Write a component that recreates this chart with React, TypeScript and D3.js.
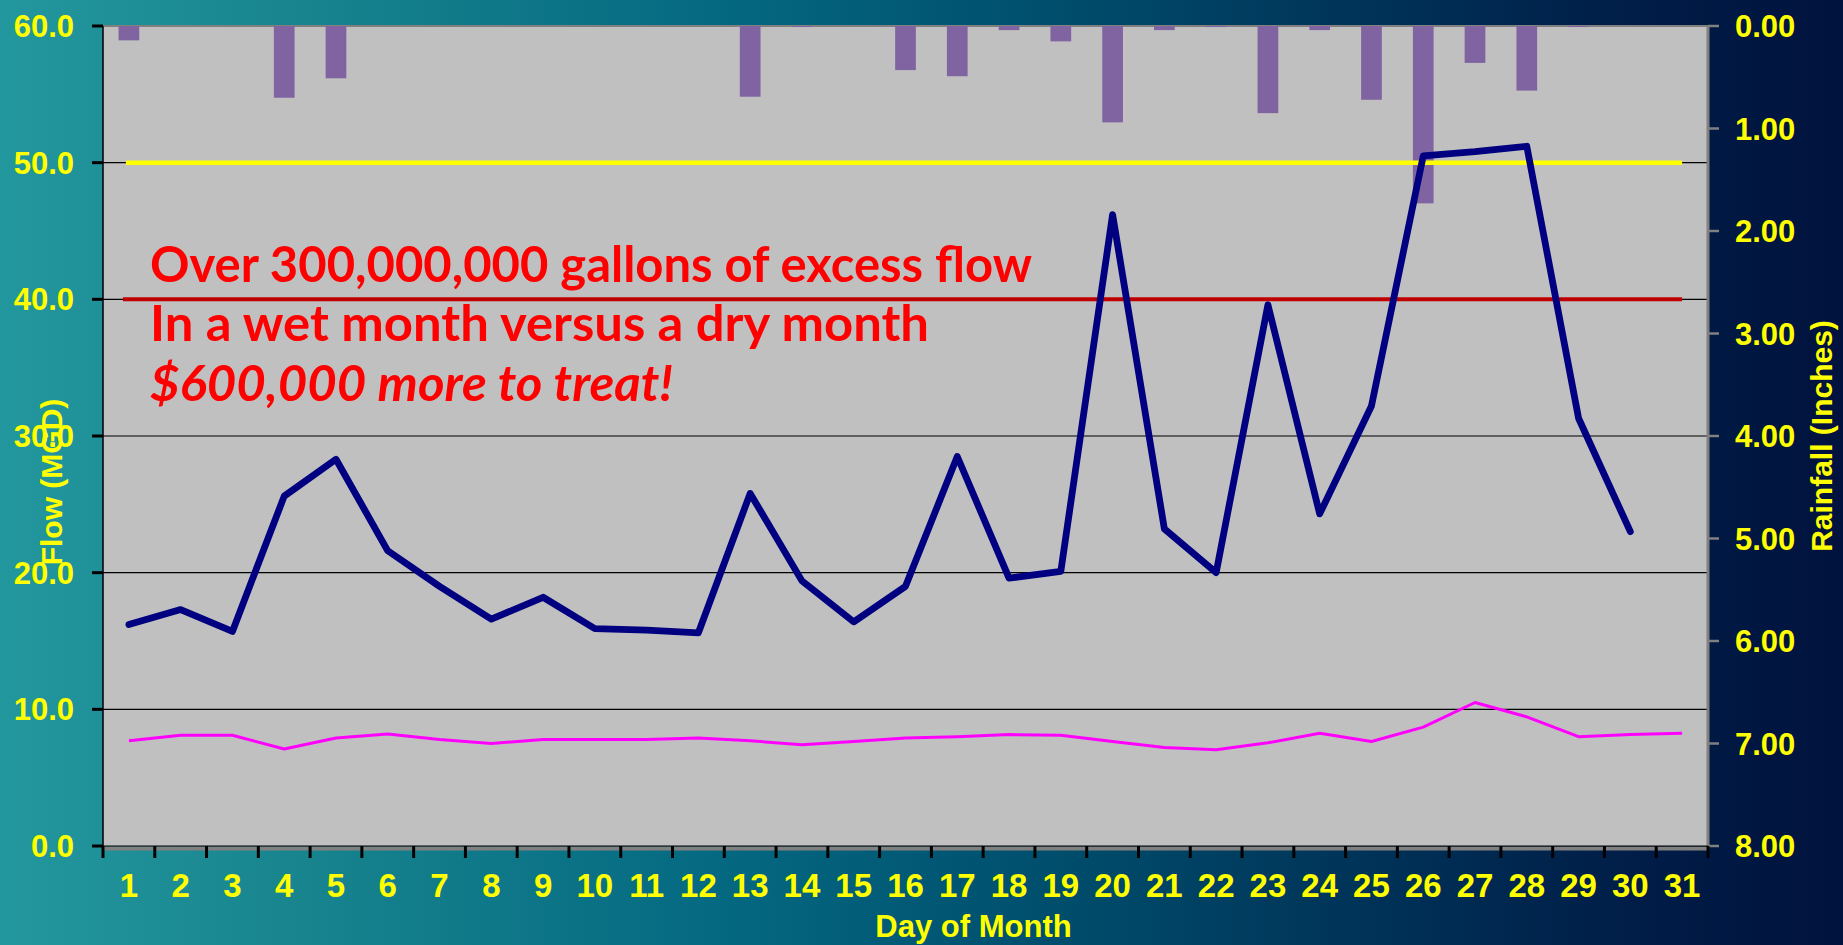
import React from 'react';
import * as d3 from 'd3';

const dayLabels = ['1','2','3','4','5','6','7','8','9','10','11','12','13','14','15','16','17','18','19','20','21','22','23','24','25','26','27','28','29','30','31'];
const wetFlow: (number | null)[] = [16.2, 17.3, 15.7, 25.6, 28.3, 21.6, 19.0, 16.6, 18.2, 15.9, 15.8, 15.6, 25.8, 19.4, 16.4, 19.0, 28.5, 19.6, 20.1, 46.2, 23.2, 20.0, 39.6, 24.3, 32.2, 50.5, 50.8, 51.2, 31.3, 23.0, null];
const dryFlow = [7.7, 8.1, 8.1, 7.1, 7.9, 8.2, 7.8, 7.5, 7.8, 7.8, 7.8, 7.9, 7.7, 7.4, 7.65, 7.9, 8.0, 8.15, 8.1, 7.65, 7.2, 7.05, 7.55, 8.25, 7.65, 8.7, 10.5, 9.45, 8.0, 8.15, 8.25];
const rainfall = [0.14, 0, 0, 0.70, 0.51, 0, 0, 0, 0, 0, 0, 0, 0.69, 0.01, 0, 0.43, 0.49, 0.04, 0.15, 0.94, 0.04, 0.01, 0.85, 0.04, 0.72, 1.73, 0.36, 0.63, 0.01, 0, 0];
const flowTicks = [0, 10, 20, 30, 40, 50, 60];
const rainTicks = [0, 1, 2, 3, 4, 5, 6, 7, 8];
const capacityLevel = 50;
const avgLevel = 40;
const noteLines = [
  'Over 300,000,000 gallons of excess flow',
  'In a wet month versus a dry month',
  '$600,000 more to treat!',
];

const W = 1843, H = 945;
const L = 103, R = 1708, T = 26, B = 846;
const AX = '"Liberation Sans", Arial, sans-serif';
const YEL = '#FFFF00';

export default function App() {
  const x = d3.scaleBand<string>().domain(dayLabels).range([L, R]).padding(0);
  const bw = x.bandwidth();
  const cx = (i: number) => (x(dayLabels[i]) as number) + bw / 2;
  const yF = d3.scaleLinear().domain([0, 60]).range([B, T]);
  const yR = d3.scaleLinear().domain([0, 8]).range([T, B]);

  const lineGen = d3.line<number | null>()
    .defined(v => v != null)
    .x((_, i) => cx(i))
    .y(v => yF(v as number));

  const boundaries = dayLabels.map(d => x(d) as number).concat([R]);
  const barW = bw * 0.4;
  const x0 = cx(0), x1 = cx(dayLabels.length - 1);

  const noteLens = [882, 779, 523];
  const noteY = [282, 341, 401];

  return (
    <div style={{ position: 'absolute', left: 0, top: 0 }}>
      <svg width={W} height={H} style={{ display: 'block' }}>
        <defs>
          <linearGradient id="bg" x1="0" y1="0" x2="1" y2="0">
            <stop offset="0" stopColor="#23979e" />
            <stop offset="0.15" stopColor="#19868f" />
            <stop offset="0.38" stopColor="#056a82" />
            <stop offset="0.55" stopColor="#00516f" />
            <stop offset="0.72" stopColor="#00365a" />
            <stop offset="0.87" stopColor="#001f49" />
            <stop offset="1" stopColor="#00123d" />
          </linearGradient>
        </defs>
        <rect x={0} y={0} width={W} height={H} fill="url(#bg)" />
        <rect x={L} y={T} width={R - L} height={B - T} fill="#C0C0C0" />

        {flowTicks.filter(t => t > 0 && t < 60).map(t => (
          <line key={'g' + t} x1={L} x2={R} y1={yF(t)} y2={yF(t)} stroke="#000" strokeWidth={1.2} />
        ))}
        <line x1={L} x2={R} y1={T} y2={T} stroke="#808080" strokeWidth={2} />

        {rainfall.map((v, i) => v > 0 ? (
          <rect key={'b' + i} x={cx(i) - barW / 2} y={yR(0)} width={barW} height={yR(v) - yR(0)} fill="#8064A2" />
        ) : null)}

        <line x1={x0 - 3} x2={x1} y1={yF(capacityLevel)} y2={yF(capacityLevel)} stroke="#FFFF00" strokeWidth={4.5} />
        <line x1={x0 - 6} x2={x1} y1={yF(avgLevel)} y2={yF(avgLevel)} stroke="#C00000" strokeWidth={4} />

        <path d={lineGen(dryFlow) || ''} fill="none" stroke="#FF00FF" strokeWidth={3} strokeLinejoin="round" />
        <path d={lineGen(wetFlow) || ''} fill="none" stroke="#000080" strokeWidth={6.8} strokeLinejoin="round" strokeLinecap="round" />

        {noteLines.map((s, i) => (
          <text key={'n' + i} x={150} y={noteY[i]} fill="#FF0000" fontFamily="Lato, 'Open Sans', sans-serif" fontWeight="bold"
            fontStyle={i === 2 ? 'italic' : 'normal'} fontSize={49} textLength={noteLens[i]} lengthAdjust="spacingAndGlyphs">{s}</text>
        ))}

        <line x1={L} x2={L} y1={T} y2={B} stroke="#000" strokeWidth={1.5} />
        {flowTicks.map(t => (
          <g key={'lf' + t}>
            <line x1={L - 11} x2={L} y1={yF(t)} y2={yF(t)} stroke="#000" strokeWidth={3} />
            <text x={74} y={yF(t)} dy="0.36em" textAnchor="end" fill={YEL} fontFamily={AX} fontWeight="bold" fontSize={31}>{t.toFixed(1)}</text>
          </g>
        ))}

        <line x1={R} x2={R} y1={T} y2={B} stroke="#808080" strokeWidth={3} />
        {rainTicks.map(t => (
          <g key={'rt' + t}>
            <line x1={R} x2={R + 11} y1={yR(t)} y2={yR(t)} stroke="#808080" strokeWidth={2.5} />
            <text x={1735} y={yR(t)} dy="0.36em" textAnchor="start" fill={YEL} fontFamily={AX} fontWeight="bold" fontSize={31}>{t.toFixed(2)}</text>
          </g>
        ))}

        <line x1={L} x2={R} y1={B + 2.5} y2={B + 2.5} stroke="#808080" strokeWidth={4} />
        <line x1={L} x2={R} y1={B} y2={B} stroke="#000" strokeWidth={1.2} />
        {boundaries.map((bx, i) => (
          <line key={'bt' + i} x1={bx} x2={bx} y1={B} y2={B + 12} stroke="#000" strokeWidth={3} />
        ))}
        {dayLabels.map((d, i) => (
          <text key={'xl' + d} x={cx(i)} y={897} textAnchor="middle" fill={YEL} fontFamily={AX} fontWeight="bold" fontSize={33}>{d}</text>
        ))}

        <text x={(L + R) / 2 + 68} y={937} textAnchor="middle" fill={YEL} fontFamily={AX} fontWeight="bold" fontSize={31}>Day of Month</text>
        <text transform="translate(62,482) rotate(-90)" textAnchor="middle" fill={YEL} fontFamily={AX} fontWeight="bold" fontSize={30}>Flow (MGD)</text>
        <text transform="translate(1832,436) rotate(-90)" textAnchor="middle" fill={YEL} fontFamily={AX} fontWeight="bold" fontSize={30}>Rainfall (Inches)</text>
      </svg>
    </div>
  );
}
